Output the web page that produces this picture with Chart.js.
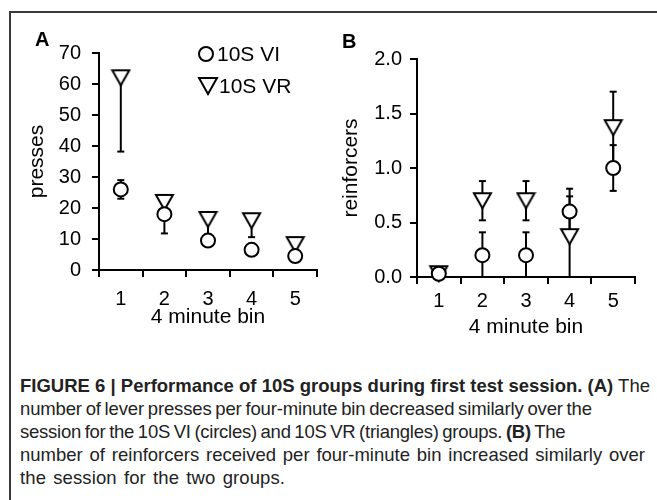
<!DOCTYPE html>
<html>
<head>
<meta charset="utf-8">
<script src="https://cdn.jsdelivr.net/npm/chart.js@4/dist/chart.umd.min.js"></script>
<style>
  html, body { margin: 0; padding: 0; background: #fff; }
  body { width: 657px; height: 500px; position: relative; overflow: hidden; font-family: "Liberation Sans", Arial, sans-serif; }
  .frame { position: absolute; left: 9px; top: 11px; width: 660px; height: 500px; border-top: 2px solid #3a3a3a; border-left: 2px solid #3a3a3a; }
  canvas { position: absolute; top: 0; }
  #chartA { left: 0; }
  #chartB { left: 330px; }
  .panel { position: absolute; font: bold 20px "Liberation Sans", Arial, sans-serif; color: #000; }
  .caption { position: absolute; left: 20px; top: 374px; font-size: 18.5px; line-height: 23px; color: #222; white-space: nowrap; }
  .caption div { height: 23px; }
</style>
</head>
<body>
<div class="frame"></div>
<canvas id="chartA" width="330" height="340"></canvas>
<canvas id="chartB" width="327" height="340"></canvas>
<div class="panel" style="left:35px;top:28px">A</div>
<div class="panel" style="left:342px;top:30px">B</div>
<div class="caption" id="caption">
  <div><span data-end="650"><b>FIGURE 6 | Performance of 10S groups during first test session. (A)</b> The</span></div>
  <div><span data-end="592">number of lever presses per four-minute bin decreased similarly over the</span></div>
  <div><span data-end="515">session for the 10S VI (circles) and 10S VR (triangles) groups. <b>(B)</b> The</span></div>
  <div><span data-end="645">number of reinforcers received per four-minute bin increased similarly over</span></div>
  <div><span data-end="285">the session for the two groups.</span></div>
</div>
<script>
// ── DATA ──────────────────────────────────────────
const bins = ['1', '2', '3', '4', '5'];
const seriesNames = ['10S VI', '10S VR'];

// panel A: presses
const pressVI    = [26, 18, 9.5, 6.5, 4.5];
const pressVILo  = [23, 11.8, 9.5, 6.5, 4.5];
const pressVIHi  = [29, 18, 9.5, 6.5, 4.5];
const pressVR    = [62, 21.8, 16.3, 15.9, 8.2];
const pressVRLo  = [38.2, 21.8, 10.8, 10.6, 8.2];
const pressVRHi  = [62, 21.8, 16.3, 15.9, 8.2];

// panel B: reinforcers
const reinfVI    = [0.03, 0.2, 0.2, 0.6, 1.0];
const reinfVILo  = [0.03, 0, 0, 0.4, 0.79];
const reinfVIHi  = [0.03, 0.41, 0.41, 0.81, 1.21];
const reinfVR    = [0.03, 0.7, 0.7, 0.37, 1.37];
const reinfVRLo  = [0.03, 0.52, 0.52, 0, 1.03];
const reinfVRHi  = [0.03, 0.88, 0.88, 0.74, 1.7];

// ── CAPTION: nudge each line toward the width it has in the figure ──
const clamp = (v, lo, hi) => Math.max(lo, Math.min(hi, v));
document.querySelectorAll('#caption span').forEach(sp => {
  const txt = sp.textContent;
  const spaces = (txt.match(/ /g) || []).length;
  const diff = (+sp.dataset.end - 20) - sp.getBoundingClientRect().width;
  const ws = clamp(diff / spaces, -1.2, 2);
  const ls = clamp((diff - ws * spaces) / (txt.length - 1), -0.25, 0.5);
  sp.style.wordSpacing = ws.toFixed(3) + 'px';
  sp.style.letterSpacing = ls.toFixed(3) + 'px';
});

// ── MARKERS ───────────────────────────────────────
function triangleImg(w, h) {
  const c = document.createElement('canvas');
  c.width = w + 4; c.height = h + 4;
  const g = c.getContext('2d');
  g.lineWidth = 2; g.strokeStyle = '#000'; g.fillStyle = '#fff';
  g.beginPath();
  g.moveTo(2, 2); g.lineTo(w + 2, 2); g.lineTo(w / 2 + 2, h + 2); g.closePath();
  g.fill(); g.stroke();
  return c;
}
const tri = triangleImg(17, 15);
const triLegend = triangleImg(18, 16);

const FAMILY = '"Liberation Sans", Arial, sans-serif';
const TICK_FONT = { family: FAMILY, size: 20 };
const TITLE_FONT = { family: FAMILY, size: 21 };

// error bars, drawn under the markers
const errorBars = {
  id: 'errorBars',
  beforeDatasetsDraw(chart) {
    const { ctx, chartArea } = chart;
    const x = chart.scales.x, y = chart.scales.y;
    ctx.save();
    ctx.strokeStyle = '#000'; ctx.lineWidth = 2;
    chart.data.datasets.forEach(ds => {
      ds.data.forEach((v, i) => {
        const px = x.getPixelForValue(i);
        const pm = y.getPixelForValue(v);
        [ds.errLo[i], ds.errHi[i]].forEach(e => {
          if (e === v) return;
          let pe = y.getPixelForValue(e);
          const capped = pe >= chartArea.top && pe <= chartArea.bottom + 1;
          pe = Math.max(chartArea.top, Math.min(chartArea.bottom, pe));
          ctx.beginPath(); ctx.moveTo(px, pm); ctx.lineTo(px, pe); ctx.stroke();
          if (capped) { ctx.beginPath(); ctx.moveTo(px - 3.5, pe); ctx.lineTo(px + 3.5, pe); ctx.stroke(); }
        });
      });
    });
    ctx.restore();
  }
};

// legend inside panel A
const legendA = {
  id: 'legendA',
  afterDraw(chart) {
    if (chart.canvas.id !== 'chartA') return;
    const ctx = chart.ctx;
    ctx.save();
    ctx.font = '21px ' + FAMILY;
    ctx.textBaseline = 'middle';
    ctx.lineWidth = 2; ctx.strokeStyle = '#000';
    ctx.beginPath(); ctx.arc(206, 54, 7, 0, Math.PI * 2); ctx.fillStyle = '#fff'; ctx.fill(); ctx.stroke();
    ctx.drawImage(triLegend, 208 - triLegend.width / 2, 86 - triLegend.height / 2);
    ctx.fillStyle = '#000';
    ctx.fillText(seriesNames[0], 217, 55);
    ctx.fillText(seriesNames[1], 219, 87);
    ctx.restore();
  }
};

function makeChart(id, cfg) {
  return new Chart(document.getElementById(id), {
    type: 'line',
    data: {
      labels: bins,
      datasets: [
        { label: seriesNames[0], data: cfg.vi, errLo: cfg.viLo, errHi: cfg.viHi, showLine: false, clip: false,
          pointStyle: 'circle', pointRadius: 7, pointBorderWidth: 2, pointBorderColor: '#000', pointBackgroundColor: '#fff' },
        { label: seriesNames[1], data: cfg.vr, errLo: cfg.vrLo, errHi: cfg.vrHi, showLine: false, clip: false,
          pointStyle: tri, pointRadius: 8 }
      ]
    },
    options: {
      responsive: false, animation: false, devicePixelRatio: 1,
      layout: { padding: cfg.padding },
      plugins: { legend: { display: false }, tooltip: { enabled: false } },
      scales: {
        x: {
          offset: true,
          grid: { offset: true, drawOnChartArea: false, tickLength: 7, color: '#000', lineWidth: 2 },
          border: { color: '#000', width: 2 },
          ticks: { color: '#000', font: TICK_FONT, padding: cfg.xTickPad, maxRotation: 0 },
          title: { display: true, text: '4 minute bin', color: '#000', font: TITLE_FONT, padding: { top: 0, bottom: cfg.xTitlePad } },
          afterFit: s => { s.height = cfg.xHeight; }
        },
        y: {
          min: 0, max: cfg.max,
          grid: { drawOnChartArea: false, tickLength: 7, color: '#000', lineWidth: 2 },
          border: { color: '#000', width: 2 },
          ticks: { color: '#000', font: TICK_FONT, padding: cfg.yTickPad, stepSize: cfg.step, callback: cfg.fmt },
          title: { display: true, text: cfg.yTitle, color: '#000', font: TITLE_FONT, padding: { top: cfg.yTitlePad, bottom: 0 } },
          afterFit: s => { s.width = 79; }
        }
      }
    },
    plugins: [errorBars, legendA]
  });
}

makeChart('chartA', {
  vi: pressVI, viLo: pressVILo, viHi: pressVIHi,
  vr: pressVR, vrLo: pressVRLo, vrHi: pressVRHi,
  max: 70, step: 5, fmt: v => (v % 10 === 0 ? String(v) : ''),
  yTitle: 'presses',
  padding: { left: 20, right: 13, top: 53, bottom: 0 },
  xHeight: 70, xTickPad: 10, xTitlePad: 10, yTitlePad: 5, yTickPad: 11
});

makeChart('chartB', {
  vi: reinfVI, viLo: reinfVILo, viHi: reinfVIHi,
  vr: reinfVR, vrLo: reinfVRLo, vrHi: reinfVRHi,
  max: 2, step: 0.5, fmt: v => v.toFixed(1),
  yTitle: 'reinforcers',
  padding: { left: 8, right: 22, top: 59, bottom: 0 },
  xHeight: 63, xTickPad: 5, xTitlePad: 0, yTitlePad: 1, yTickPad: 8
});
</script>
</body>
</html>
